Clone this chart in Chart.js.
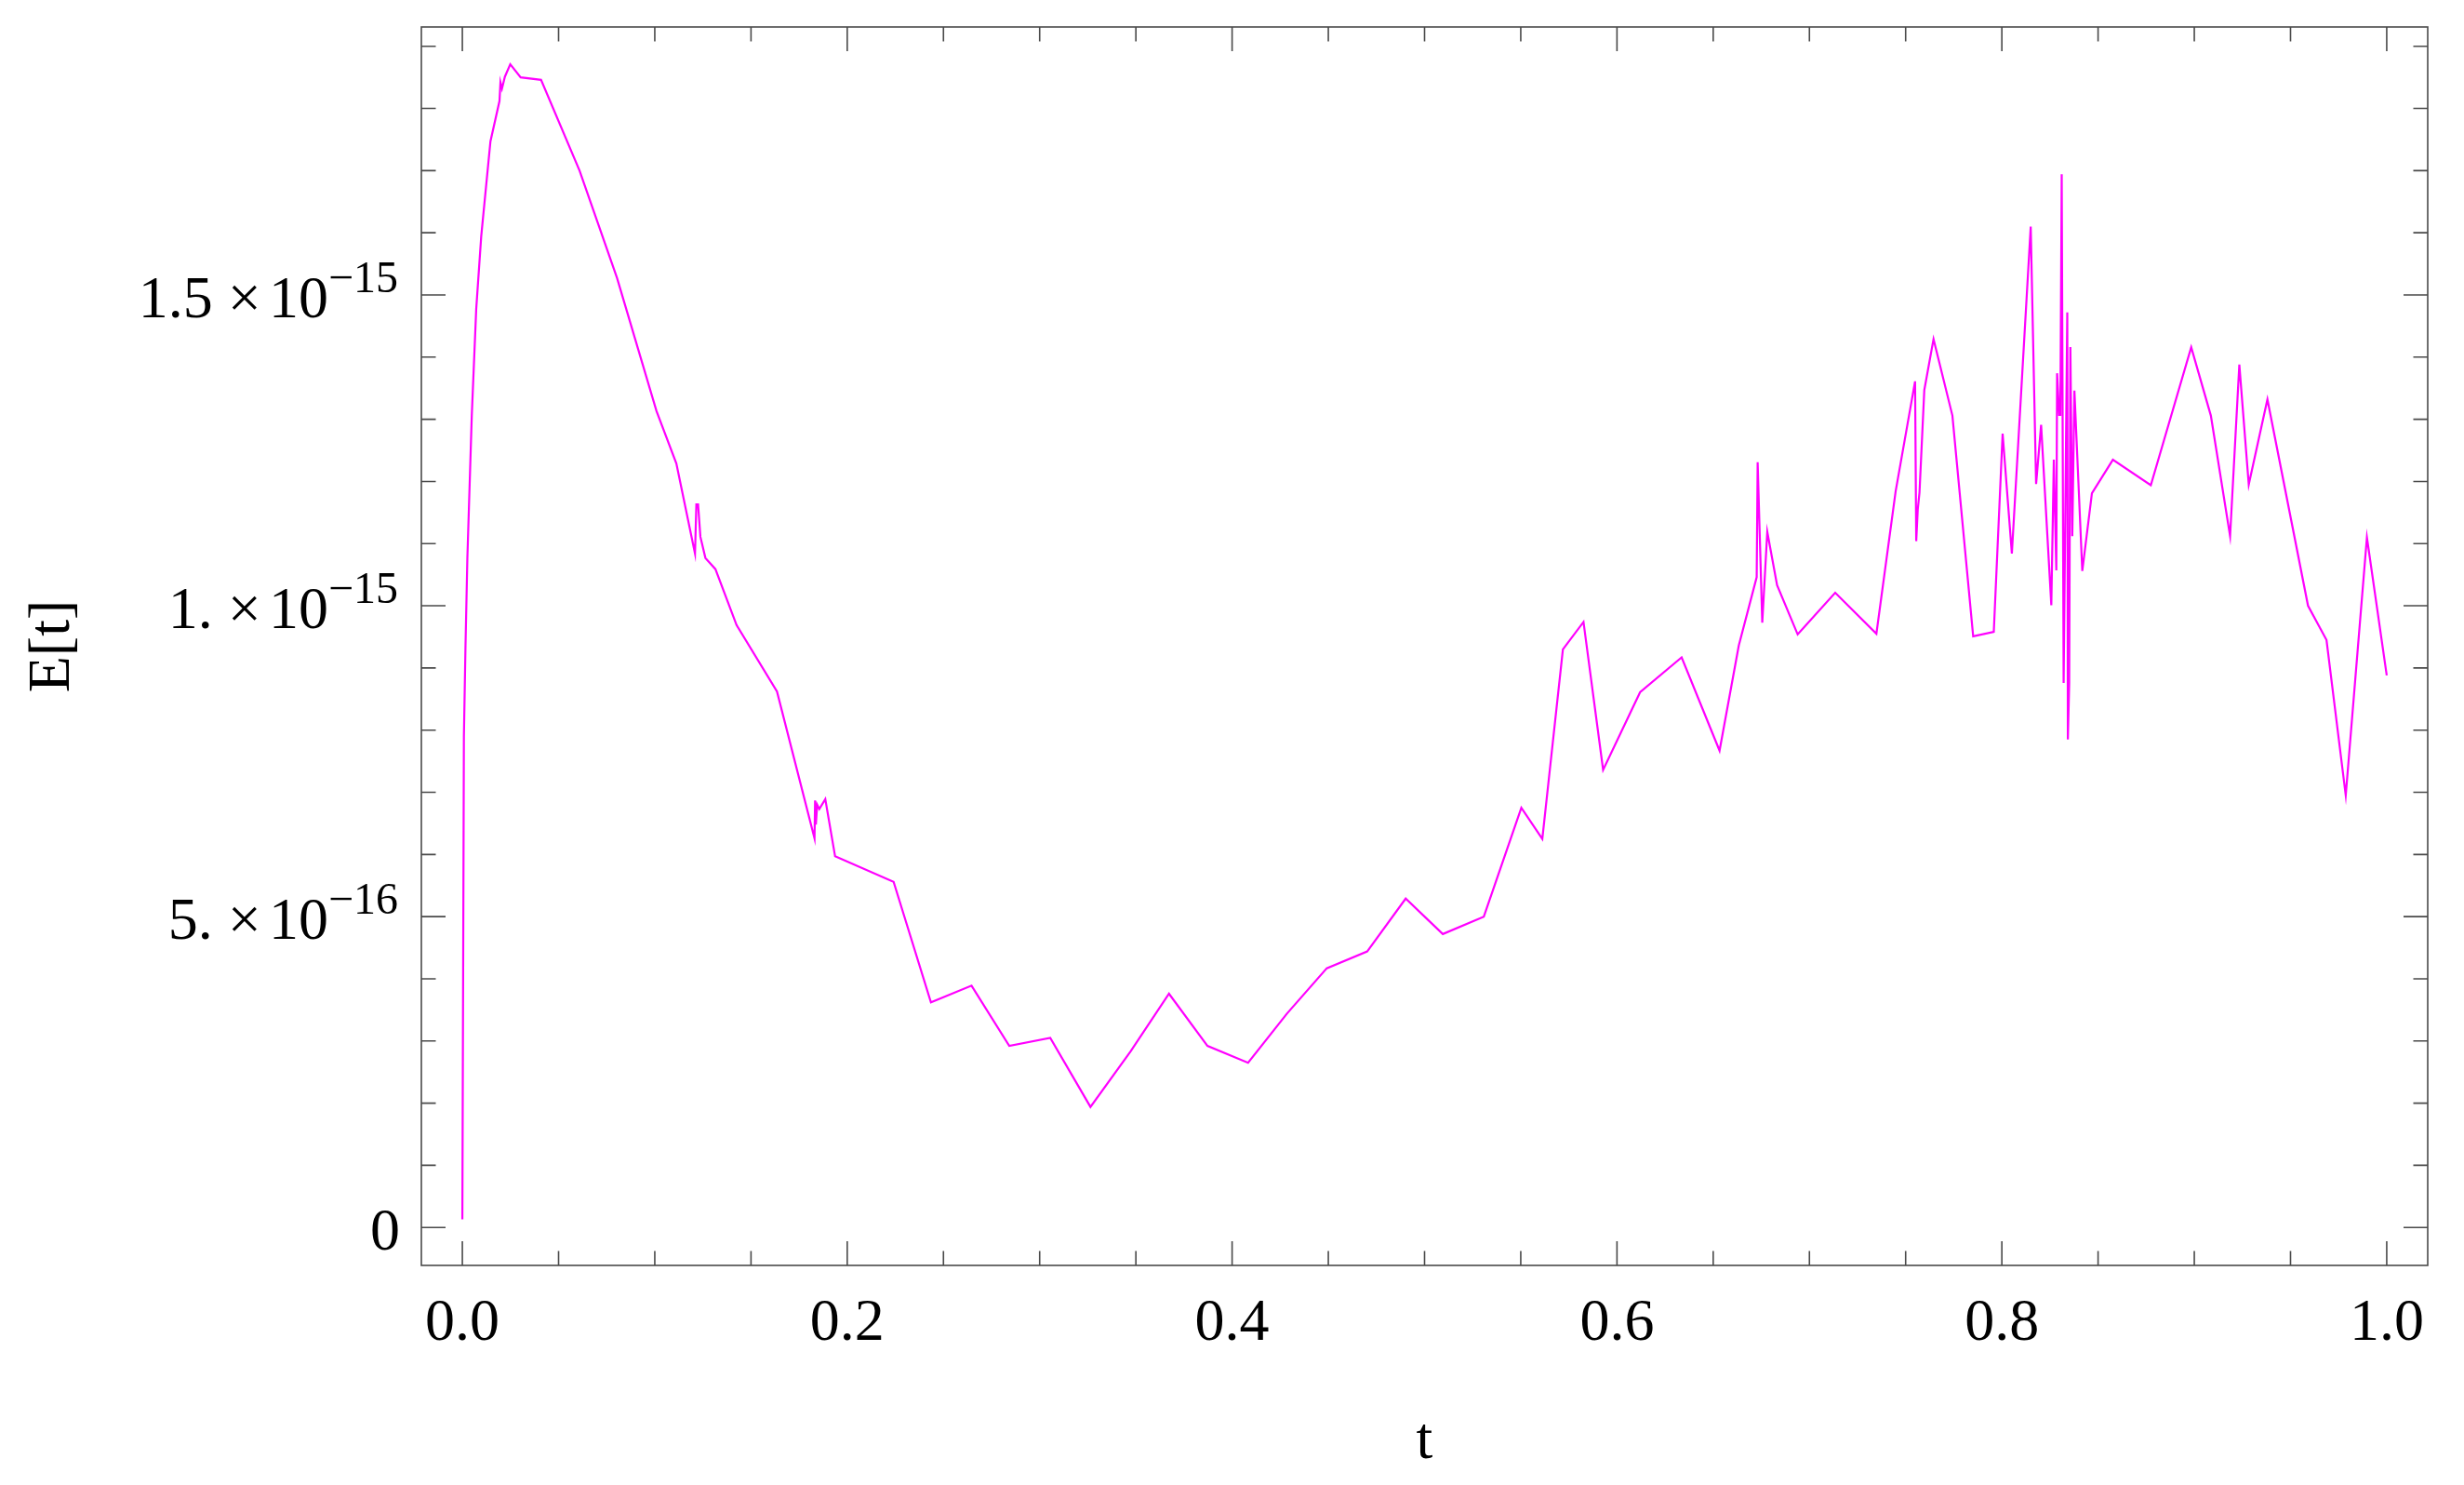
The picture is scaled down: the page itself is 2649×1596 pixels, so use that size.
<!DOCTYPE html>
<html>
<head>
<meta charset="utf-8">
<title>E[t]</title>
<script src="https://cdn.jsdelivr.net/npm/chart.js@4.4.1/dist/chart.umd.min.js"></script>
<style>
  html, body { margin: 0; padding: 0; background: #fff; }
  canvas { display: block; }
</style>
</head>
<body>
<canvas id="plot" width="2649" height="1596"></canvas>
<script>
// sample times t
const tValues = [
  0, 0.0008, 0.0016, 0.0026, 0.0049, 0.0072, 0.0098, 0.0146, 0.0193, 0.0198,
  0.0206, 0.0221, 0.0249, 0.0303, 0.0409, 0.0609, 0.0804, 0.1009, 0.1112, 0.1209,
  0.1216, 0.1225, 0.1237, 0.1263, 0.1315, 0.1425, 0.1635, 0.1830, 0.1833, 0.1837,
  0.1844, 0.1855, 0.1886, 0.1937, 0.2241, 0.2435, 0.2646, 0.2842, 0.3055, 0.3264,
  0.3472, 0.3672, 0.3872, 0.4083, 0.4285, 0.4492, 0.4702, 0.4902, 0.5095, 0.5308,
  0.5503, 0.5612, 0.5719, 0.5826, 0.5928, 0.6120, 0.6336, 0.6533, 0.6633, 0.6726,
  0.6731, 0.6755, 0.6781, 0.6832, 0.6939, 0.7134, 0.7348, 0.7448, 0.7549, 0.7555,
  0.7563, 0.7572, 0.7597, 0.7645, 0.7743, 0.7851, 0.7958, 0.8004, 0.8052, 0.8150,
  0.8178, 0.8204, 0.8257, 0.8270, 0.8283, 0.8287, 0.8298, 0.8304, 0.8311, 0.8321,
  0.8340, 0.8343, 0.8350, 0.8356, 0.8366, 0.8377, 0.8418, 0.8468, 0.8577, 0.8774,
  0.8984, 0.9086, 0.9186, 0.9234, 0.9283, 0.9380, 0.9591, 0.9687, 0.9787, 0.9897,
  1.0
];

// error E[t]
const eValues = [
  0.013e-15, 0.790e-15, 0.930e-15, 1.076e-15, 1.306e-15, 1.477e-15, 1.594e-15, 1.747e-15, 1.812e-15, 1.842e-15,
  1.832e-15, 1.851e-15, 1.871e-15, 1.850e-15, 1.846e-15, 1.700e-15, 1.527e-15, 1.313e-15, 1.229e-15, 1.084e-15,
  1.163e-15, 1.163e-15, 1.111e-15, 1.077e-15, 1.059e-15, 0.969e-15, 0.862e-15, 0.626e-15, 0.687e-15, 0.648e-15,
  0.680e-15, 0.673e-15, 0.689e-15, 0.597e-15, 0.556e-15, 0.362e-15, 0.389e-15, 0.292e-15, 0.305e-15, 0.194e-15,
  0.283e-15, 0.376e-15, 0.292e-15, 0.265e-15, 0.344e-15, 0.417e-15, 0.444e-15, 0.529e-15, 0.472e-15, 0.500e-15,
  0.675e-15, 0.625e-15, 0.930e-15, 0.974e-15, 0.736e-15, 0.861e-15, 0.917e-15, 0.767e-15, 0.936e-15, 1.046e-15,
  1.231e-15, 0.973e-15, 1.119e-15, 1.033e-15, 0.954e-15, 1.021e-15, 0.955e-15, 1.184e-15, 1.361e-15, 1.104e-15,
  1.155e-15, 1.182e-15, 1.347e-15, 1.429e-15, 1.306e-15, 0.951e-15, 0.958e-15, 1.277e-15, 1.084e-15, 1.610e-15,
  1.196e-15, 1.291e-15, 1.001e-15, 1.235e-15, 1.057e-15, 1.374e-15, 1.307e-15, 1.307e-15, 1.694e-15, 0.876e-15,
  1.472e-15, 0.785e-15, 0.876e-15, 1.416e-15, 1.112e-15, 1.346e-15, 1.056e-15, 1.181e-15, 1.235e-15, 1.194e-15,
  1.416e-15, 1.306e-15, 1.112e-15, 1.388e-15, 1.195e-15, 1.332e-15, 1.000e-15, 0.945e-15, 0.695e-15, 1.110e-15,
  0.888e-15
];

// ticks
const xTicks = [0, 0.2, 0.4, 0.6, 0.8, 1.0];
const xTickLabels = ["0.0", "0.2", "0.4", "0.6", "0.8", "1.0"];
const yTicks = [0, 5e-16, 1e-15, 1.5e-15];
const yTickMantissa = ["0", "5.", "1.", "1.5"];
const yTickExponent = ["", "\u221216", "\u221215", "\u221215"];

const FONT = '"Liberation Serif", "Times New Roman", serif';
const FRAME_COLOR = "#4a4a4a";

// Mathematica-style frame: ticks pointing inwards on all four sides
const framePlugin = {
  id: "mmaFrame",
  afterDraw(chart) {
    const { ctx, chartArea: a, scales } = chart;
    const xs = scales.x, ys = scales.y;
    ctx.save();
    ctx.strokeStyle = FRAME_COLOR;
    ctx.lineWidth = 1.6;
    ctx.strokeRect(a.left, a.top, a.right - a.left, a.bottom - a.top);

    ctx.beginPath();
    for (let i = 0; i <= 20; i++) {
      const v = i * 0.05;
      const px = xs.getPixelForValue(v);
      const len = i % 4 === 0 ? 26 : 15.5;
      ctx.moveTo(px, a.bottom); ctx.lineTo(px, a.bottom - len);
      ctx.moveTo(px, a.top); ctx.lineTo(px, a.top + len);
    }
    for (let i = 0; i <= 19; i++) {
      const v = i * 1e-16;
      const py = ys.getPixelForValue(v);
      const len = i % 5 === 0 ? 26 : 15.5;
      ctx.moveTo(a.left, py); ctx.lineTo(a.left + len, py);
      ctx.moveTo(a.right, py); ctx.lineTo(a.right - len, py);
    }
    ctx.stroke();

    // x tick labels
    ctx.fillStyle = "#000";
    ctx.font = "64px " + FONT;
    ctx.textAlign = "center";
    ctx.textBaseline = "alphabetic";
    xTicks.forEach((v, i) => {
      ctx.fillText(xTickLabels[i], xs.getPixelForValue(v), a.bottom + 80);
    });

    // y tick labels with superscript exponent
    const right = a.left - 23;
    yTicks.forEach((v, i) => {
      const base = ys.getPixelForValue(v) + 24;
      ctx.textAlign = "left";
      if (!yTickExponent[i]) {
        ctx.font = "64px " + FONT;
        const w = ctx.measureText(yTickMantissa[i]).width;
        ctx.fillText(yTickMantissa[i], right - w, base);
        return;
      }
      ctx.font = "48px " + FONT;
      const wExp = ctx.measureText(yTickExponent[i]).width;
      ctx.font = "64px " + FONT;
      const wTen = ctx.measureText("10").width;
      const wTimes = ctx.measureText("\u00d7").width;
      const wMan = ctx.measureText(yTickMantissa[i]).width;
      let x = right - wExp - 2;
      ctx.font = "48px " + FONT;
      ctx.fillText(yTickExponent[i], x, base - 27);
      ctx.font = "64px " + FONT;
      x -= wTen;
      ctx.fillText("10", x, base);
      x -= wTimes + 8;
      ctx.fillText("\u00d7", x, base);
      x -= wMan + 16;
      ctx.fillText(yTickMantissa[i], x, base);
    });

    // axis titles
    ctx.font = "64px " + FONT;
    ctx.textAlign = "center";
    ctx.fillText("t", (a.left + a.right) / 2, 1567);
    ctx.translate(74, (a.top + a.bottom) / 2);
    ctx.rotate(-Math.PI / 2);
    ctx.fillText("E[t]", 0, 0);
    ctx.restore();
  }
};

new Chart(document.getElementById("plot"), {
  type: "scatter",
  data: {
    datasets: [{
      label: "E[t]",
      data: tValues.map((t, i) => ({ x: t, y: eValues[i] })),
      showLine: true,
      borderColor: "#ff00ff",
      borderWidth: 2.2,
      pointRadius: 0,
      tension: 0,
      fill: false
    }]
  },
  options: {
    responsive: false,
    animation: false,
    devicePixelRatio: 1,
    layout: { padding: { top: 29, right: 39, left: 0, bottom: 0 } },
    plugins: {
      legend: { display: false },
      tooltip: { enabled: false }
    },
    scales: {
      x: {
        type: "linear",
        min: -0.0213,
        max: 1.0213,
        grid: { display: false },
        border: { display: false },
        ticks: { display: false },
        afterFit: (s) => { s.height = 236; }
      },
      y: {
        type: "linear",
        min: -0.061e-15,
        max: 1.931e-15,
        grid: { display: false },
        border: { display: false },
        ticks: { display: false },
        afterFit: (s) => { s.width = 453; }
      }
    }
  },
  plugins: [framePlugin]
});
</script>
</body>
</html>
